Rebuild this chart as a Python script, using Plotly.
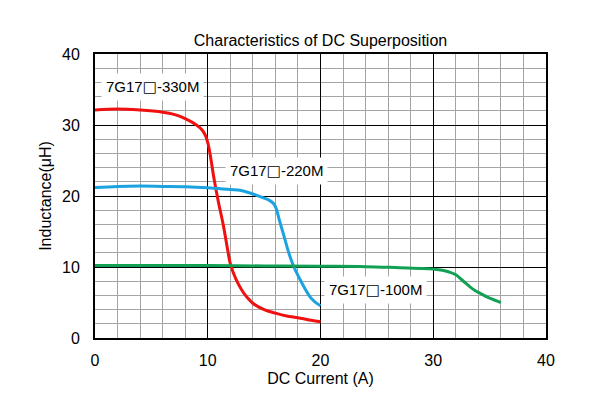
import plotly.graph_objects as go

# DC current (A) and inductance (uH)
x_330 = [0, 2, 4, 6, 7, 8, 9, 9.5, 9.8, 10.05, 10.26, 10.55, 10.94, 11.38, 11.7, 12.03, 12.5, 13, 13.5, 14, 15, 16, 17, 18, 19, 20]
y_330 = [32.1, 32.25, 32.1, 31.8, 31.5, 30.9, 30.0, 29.3, 28.5, 27.2, 25.4, 22.5, 19.2, 15.9, 13.0, 10.3, 8.3, 6.8, 5.7, 4.9, 4.0, 3.5, 3.1, 2.85, 2.55, 2.3]

x_220 = [0, 2, 4, 6, 8, 10, 12, 12.86, 13.6, 14.34, 15, 15.5, 15.85, 16.1, 16.35, 16.7, 17.0, 17.3, 17.7, 18.2, 18.6, 19.07, 19.5, 20]
y_220 = [21.2, 21.35, 21.4, 21.35, 21.3, 21.15, 20.9, 20.8, 20.5, 20.1, 19.7, 19.35, 18.9, 18.1, 16.6, 14.7, 13.0, 11.45, 9.8, 8.2, 7.0, 5.8, 5.1, 4.55]

x_100 = [0, 5, 10, 15, 20, 24, 27, 29, 30, 30.8, 31.4, 32, 32.6, 33.26, 33.7, 34.15, 35, 36]
y_100 = [10.2, 10.2, 10.2, 10.15, 10.1, 10.05, 9.9, 9.8, 9.7, 9.55, 9.3, 8.9, 8.1, 7.2, 6.7, 6.3, 5.6, 5.0]

labels = ["7G17<span style='font-family:DejaVu Sans'>\u25a1</span>-330M",
          "7G17<span style='font-family:DejaVu Sans'>\u25a1</span>-220M",
          "7G17<span style='font-family:DejaVu Sans'>\u25a1</span>-100M"]
label_pos = [(0.53, 35.35), (11.53, 23.5), (20.31, 6.76)]

x_ticks = [0, 10, 20, 30, 40]
y_ticks = [0, 10, 20, 30, 40]

FONT = "Liberation Sans, Arial, sans-serif"

fig = go.Figure()
for xs, ys, col in [(x_330, y_330, "#f01010"), (x_220, y_220, "#1ba3e0"), (x_100, y_100, "#12a055")]:
    fig.add_trace(go.Scatter(x=xs, y=ys, mode="lines", line=dict(color=col, width=3, shape="spline", smoothing=1.0),
                             showlegend=False, hoverinfo="skip"))

for txt, (lx, ly) in zip(labels, label_pos):
    fig.add_annotation(x=lx, y=ly, text=txt, showarrow=False, xanchor="left", yanchor="middle",
                       bgcolor="white", borderpad=4, font=dict(size=15, color="black", family=FONT))

axis_common = dict(showline=True, mirror=True, linecolor="black", linewidth=2,
                   showgrid=True, gridcolor="black", gridwidth=1, zeroline=False,
                   ticks="", tickfont=dict(size=16, color="black", family=FONT),
                   minor=dict(dtick=2, showgrid=True, gridcolor="#a4a4a4", gridwidth=1))

fig.update_xaxes(range=[0, 40], tickvals=x_ticks, ticklabelstandoff=7,
                 title=dict(text="DC Current (A)", font=dict(size=16, color="black", family=FONT), standoff=5),
                 **axis_common)
fig.update_yaxes(range=[0, 40], tickvals=y_ticks, ticklabelstandoff=10,
                 title=dict(text="Inductance(\u03bcH)", font=dict(size=16, color="black", family=FONT), standoff=6),
                 **axis_common)

# the page body adds an 8 px offset, compensated in the margins
fig.update_layout(
    width=601, height=394,
    margin=dict(l=87, r=63, t=46, b=64),
    paper_bgcolor="white", plot_bgcolor="white",
    title=dict(text="Characteristics of DC Superposition", x=0.5, xref="paper", xanchor="center",
               y=(394 - 32) / 394, yref="container", yanchor="middle", font=dict(size=16, color="black", family=FONT)),
)

fig.write_html("out.html")
